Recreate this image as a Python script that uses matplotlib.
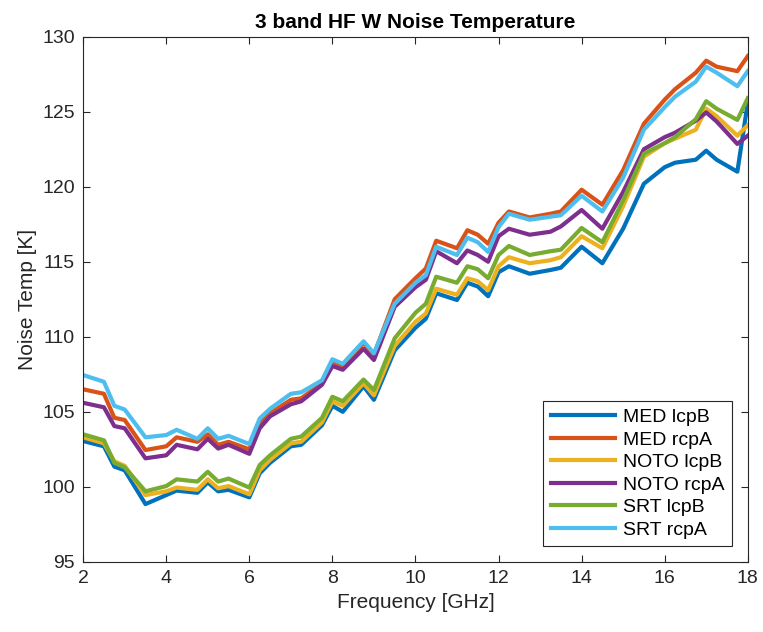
import matplotlib

matplotlib.use("Agg")
from matplotlib import pyplot as plt

freq = [2, 2.5, 2.75, 3, 3.5, 4, 4.25, 4.75, 5, 5.25, 5.5, 6, 6.25, 6.5, 7, 7.25, 7.75, 8, 8.25,
        8.75, 9, 9.5, 10, 10.25, 10.5, 11, 11.25, 11.5, 11.75, 12, 12.25, 12.75, 13.25, 13.5, 14,
        14.5, 15, 15.5, 16, 16.25, 16.75, 17, 17.25, 17.75, 18]

med_lcpb = [103.05, 102.7, 101.35, 101.1, 98.85, 99.45, 99.75, 99.6, 100.3, 99.7, 99.8, 99.3, 100.9,
            101.6, 102.7, 102.8, 104.1, 105.4, 105.0, 106.7, 105.8, 109.1, 110.6, 111.2, 112.9, 112.45,
            113.6, 113.35, 112.7, 114.3, 114.7, 114.2, 114.45, 114.6, 116.0, 114.9, 117.2, 120.2, 121.3,
            121.6, 121.8, 122.4, 121.8, 121.0, 125.6]
med_rcpa = [106.5, 106.2, 104.6, 104.45, 102.45, 102.7, 103.3, 103.0, 103.5, 102.8, 103.0, 102.5, 104.2,
            104.9, 105.8, 105.9, 106.9, 108.35, 108.0, 109.6, 108.8, 112.5, 113.9, 114.55, 116.4, 115.9,
            117.1, 116.8, 116.2, 117.6, 118.35, 117.95, 118.2, 118.35, 119.8, 118.8, 121.1, 124.2, 125.8,
            126.5, 127.6, 128.4, 128.0, 127.7, 128.7]
noto_lcpb = [103.3, 102.9, 101.7, 101.4, 99.45, 99.7, 99.95, 99.8, 100.5, 99.9, 100.05, 99.5, 101.1,
             101.8, 102.9, 103.0, 104.3, 105.7, 105.4, 106.9, 106.1, 109.4, 111.0, 111.55, 113.2, 112.8,
             113.9, 113.7, 113.1, 114.7, 115.3, 114.9, 115.1, 115.3, 116.7, 115.9, 118.7, 122.0, 122.9,
             123.2, 123.8, 125.2, 124.7, 123.4, 124.1]
noto_rcpa = [105.6, 105.3, 104.05, 103.9, 101.9, 102.1, 102.8, 102.5, 103.2, 102.55, 102.8, 102.2, 103.9,
             104.7, 105.5, 105.7, 106.8, 108.05, 107.8, 109.2, 108.45, 112.0, 113.3, 113.8, 115.7, 114.9,
             115.75, 115.45, 115.0, 116.7, 117.2, 116.8, 117.0, 117.35, 118.45, 117.2, 119.65, 122.5, 123.3,
             123.6, 124.4, 124.95, 124.35, 122.85, 123.4]
srt_lcpb = [103.5, 103.1, 101.6, 101.3, 99.7, 100.05, 100.5, 100.35, 101.0, 100.35, 100.55, 99.95, 101.45,
            102.1, 103.2, 103.35, 104.6, 106.0, 105.7, 107.15, 106.45, 109.9, 111.6, 112.2, 114.0, 113.6,
            114.7, 114.5, 113.9, 115.45, 116.05, 115.45, 115.7, 115.8, 117.25, 116.3, 119.1, 122.2, 122.9,
            123.3, 124.5, 125.7, 125.2, 124.45, 125.9]
srt_rcpa = [107.45, 107.0, 105.4, 105.15, 103.3, 103.45, 103.8, 103.2, 103.9, 103.2, 103.4, 102.85, 104.55,
            105.2, 106.2, 106.3, 107.1, 108.5, 108.2, 109.7, 108.9, 112.2, 113.6, 114.1, 116.0, 115.45,
            116.6, 116.3, 115.65, 117.3, 118.2, 117.8, 118.0, 118.1, 119.4, 118.35, 120.6, 123.8, 125.3,
            126.0, 127.0, 128.0, 127.6, 126.7, 127.7]

labels = ["MED lcpB", "MED rcpA", "NOTO lcpB", "NOTO rcpA", "SRT lcpB", "SRT rcpA"]
colors = ["#0072BD", "#D95319", "#EDB120", "#7E2F8E", "#77AC30", "#4DBEEE"]

plt.rcParams["font.family"] = ["Liberation Sans", "DejaVu Sans"]

figure = plt.figure(figsize=(7.63, 6.32), dpi=100)
axis = figure.add_axes([0.109, 0.111, 0.871, 0.831])

series = [med_lcpb, med_rcpa, noto_lcpb, noto_rcpa, srt_lcpb, srt_rcpa]
for values, label, color in zip(series, labels, colors):
    axis.plot(freq, values, color=color, linewidth=3, label=label)

axis.set_xlim(2, 18)
axis.set_ylim(95, 130)
axis.set_xticks(range(2, 19, 2))
axis.set_yticks(range(95, 131, 5))
axis.tick_params(direction="in", top=True, right=True, length=5, width=0.8,
                 labelsize=14, colors="#262626", pad=6)
for spine in axis.spines.values():
    spine.set_color("#262626")
    spine.set_linewidth(0.8)

axis.set_xlabel("Frequency [GHz]", fontsize=15, color="#262626")
axis.set_ylabel("Noise Temp [K]", fontsize=15, color="#262626")
axis.set_title("3 band HF W Noise Temperature", fontsize=15, fontweight="bold", pad=6)

legend = axis.legend(loc="lower right", fontsize=14, handlelength=3.3, fancybox=False,
                     framealpha=1, edgecolor="#262626", borderaxespad=0.8,
                     labelspacing=0.25, handletextpad=0.4, borderpad=0.4)
legend.get_frame().set_linewidth(0.8)

figure.savefig("out.png", dpi=100)
plt.close(figure)
